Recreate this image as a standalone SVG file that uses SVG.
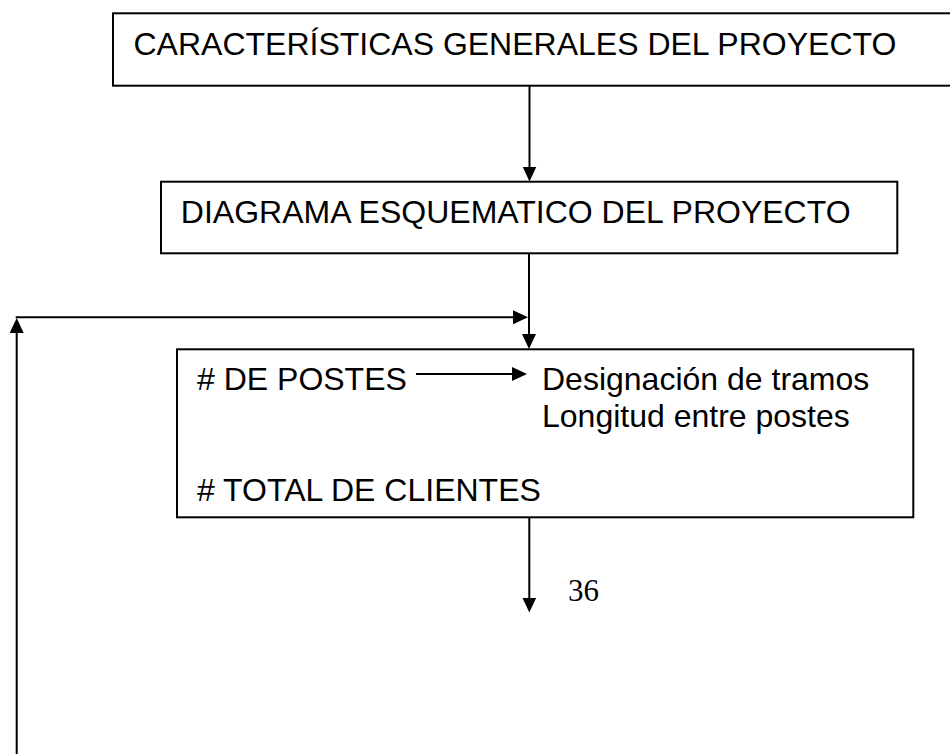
<svg xmlns="http://www.w3.org/2000/svg" width="950" height="754" viewBox="0 0 950 754">
  <style>
    .box { fill: #ffffff; stroke: #000000; stroke-width: 2; }
    .lbl { font-family: "Liberation Sans", Arial, sans-serif; font-size: 32px; fill: #000000; }
    .num { font-family: "Liberation Serif", "Times New Roman", serif; font-size: 31px; fill: #000000; }
    .conn { fill: none; stroke: #000000; stroke-width: 2; }
  </style>
  <defs>
    <marker id="arrow" viewBox="0 0 15 14" markerUnits="userSpaceOnUse" markerWidth="15" markerHeight="14" refX="8" refY="7" orient="auto">
      <path d="M0,0 L15,7 L0,14 z" fill="#000000"/>
    </marker>
  </defs>
  <rect width="950" height="754" fill="#ffffff"/>

  <g id="node-caracteristicas">
    <rect class="box" x="113" y="13.3" width="850" height="72.4"/>
    <text class="lbl" x="133.5" y="54.5">CARACTERÍSTICAS GENERALES DEL PROYECTO</text>
  </g>

  <g id="node-diagrama">
    <rect class="box" x="161" y="181.7" width="736.3" height="71.6"/>
    <text class="lbl" x="180.8" y="222.5">DIAGRAMA ESQUEMATICO DEL PROYECTO</text>
  </g>

  <g id="node-postes">
    <rect class="box" x="177" y="349.3" width="736.3" height="168"/>
    <text class="lbl" x="197" y="390"># DE POSTES</text>
    <text class="lbl" x="542" y="390">Designación de tramos</text>
    <text class="lbl" x="542" y="426.7">Longitud entre postes</text>
    <text class="lbl" x="197" y="501"># TOTAL DE CLIENTES</text>
  </g>

  <text class="num" x="568" y="600.5">36</text>

  <g id="connectors">
    <line class="conn" x1="529.5" y1="86" x2="529.5" y2="174.5" marker-end="url(#arrow)"/>
    <line class="conn" x1="529" y1="253" x2="529" y2="342" marker-end="url(#arrow)"/>
    <line class="conn" x1="16.7" y1="754" x2="16.7" y2="325" marker-end="url(#arrow)"/>
    <line class="conn" x1="15.7" y1="317.3" x2="521" y2="317.3" marker-end="url(#arrow)"/>
    <line class="conn" x1="416" y1="374" x2="520" y2="374" marker-end="url(#arrow)"/>
    <line class="conn" x1="529.3" y1="517" x2="529.3" y2="605.5" marker-end="url(#arrow)"/>
  </g>
</svg>
